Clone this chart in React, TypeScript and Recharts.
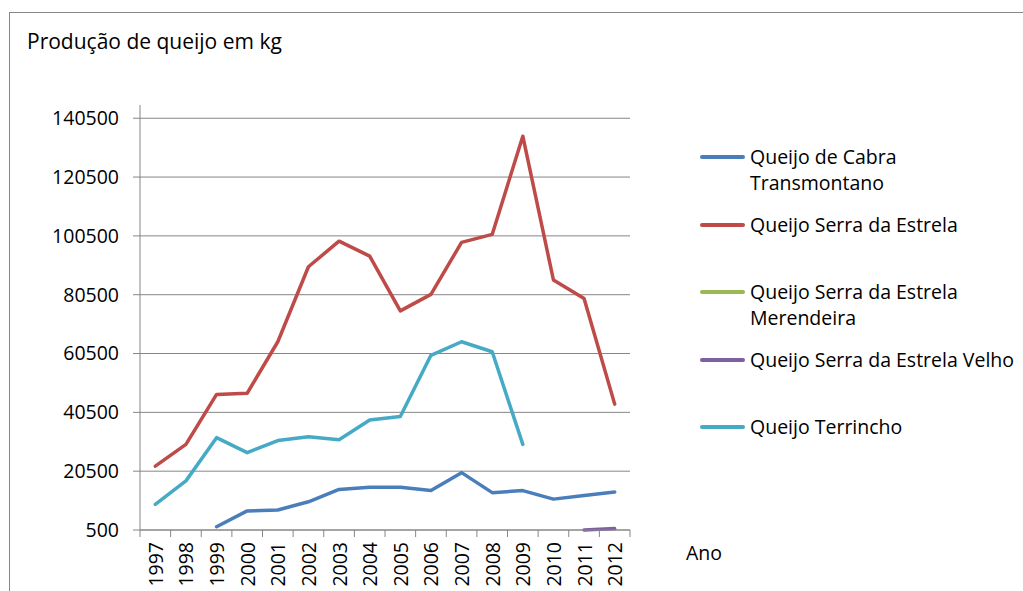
import React from 'react';
import { LineChart, Line, XAxis, YAxis, ReferenceLine, Legend } from 'recharts';

const years = [1997, 1998, 1999, 2000, 2001, 2002, 2003, 2004, 2005, 2006, 2007, 2008, 2009, 2010, 2011, 2012];
const cabraTransmontano = [null, null, 1600, 7000, 7300, 10100, 14300, 15000, 15000, 13900, 20000, 13200, 13900, 11000, 12200, 13400];
const serraDaEstrela = [22200, 29600, 46600, 47000, 64500, 90000, 98700, 93600, 75000, 80600, 98300, 101000, 134400, 85500, 79200, 43300];
const serraMerendeira = [null, null, null, null, null, null, null, null, null, null, null, null, null, null, null, null];
const serraVelho = [null, null, null, null, null, null, null, null, null, null, null, null, null, null, 500, 1000];
const terrincho = [9200, 17200, 31900, 26800, 30900, 32200, 31200, 37900, 39100, 59900, 64500, 61100, 29600, null, null, null];
const yTicks = [500, 20500, 40500, 60500, 80500, 100500, 120500, 140500];

const seriesKeys = ['cabra', 'serra', 'merendeira', 'velho', 'terrincho'];
const seriesNames = [
  'Queijo de Cabra Transmontano',
  'Queijo Serra da Estrela',
  'Queijo Serra da Estrela Merendeira',
  'Queijo Serra da Estrela Velho',
  'Queijo Terrincho',
];
const legendLines = [
  ['Queijo de Cabra', 'Transmontano'],
  ['Queijo Serra da Estrela'],
  ['Queijo Serra da Estrela', 'Merendeira'],
  ['Queijo Serra da Estrela Velho'],
  ['Queijo Terrincho'],
];
const seriesColors = ['#4A7EBB', '#BE4B48', '#98B954', '#7D60A0', '#46AAC5'];

const data = years.map((year, i) => ({
  year,
  cabra: cabraTransmontano[i],
  serra: serraDaEstrela[i],
  merendeira: serraMerendeira[i],
  velho: serraVelho[i],
  terrincho: terrincho[i],
}));

const W = 1023;
const H = 591;
const MARGIN = { top: 105, right: 393, bottom: 0, left: 0 };
const Y_AXIS_W = 140;
const X_AXIS_H = 61;
const PLOT_LEFT = MARGIN.left + Y_AXIS_W;
const PLOT_RIGHT = W - MARGIN.right;
const PLOT_BOTTOM = H - MARGIN.bottom - X_AXIS_H;
const HALF_STEP = (PLOT_RIGHT - PLOT_LEFT) / years.length / 2;
const AXIS_COLOR = '#868686';
const FONT = '"Open Sans", sans-serif';

function YearTick(props: any) {
  const { x, payload } = props;
  const isLast = payload.value === years[years.length - 1];
  const tx = x + 7.5;
  const ty = PLOT_BOTTOM + 12;
  return (
    <g>
      <line x1={x - HALF_STEP} y1={PLOT_BOTTOM} x2={x - HALF_STEP} y2={PLOT_BOTTOM + 7} stroke={AXIS_COLOR} />
      {isLast && (
        <line x1={x + HALF_STEP} y1={PLOT_BOTTOM} x2={x + HALF_STEP} y2={PLOT_BOTTOM + 7} stroke={AXIS_COLOR} />
      )}
      <text
        x={tx}
        y={ty}
        transform={`rotate(-90, ${tx}, ${ty})`}
        textAnchor="end"
        fontSize={19.5}
        fontFamily={FONT}
        fill="#000"
      >
        {payload.value}
      </text>
    </g>
  );
}

function renderLegend() {
  return (
    <div style={{ fontFamily: FONT, fontSize: 19.5, color: '#000', textAlign: 'left' }}>
      {seriesKeys.map((k, i) => (
        <div key={k} style={{ position: 'relative', height: 67.5 }}>
          <div
            style={{
              position: 'absolute',
              left: 0,
              top: 11,
              width: 45,
              height: 4,
              borderRadius: 2,
              background: seriesColors[i],
            }}
          />
          <div style={{ position: 'absolute', left: 50, top: 0, lineHeight: '26px', whiteSpace: 'nowrap' }}>
            {legendLines[i].map((l, j) => (
              <div key={j}>{l}</div>
            ))}
          </div>
        </div>
      ))}
    </div>
  );
}

export default function App() {
  return (
    <div style={{ position: 'absolute', left: 0, top: 0, width: W, height: H, overflow: 'hidden', background: '#fff' }}>
      <div
        style={{
          position: 'absolute',
          left: 9,
          top: 12,
          width: 1200,
          height: 800,
          border: `1.5px solid ${AXIS_COLOR}`,
          boxSizing: 'border-box',
        }}
      />
      <div
        style={{
          position: 'absolute',
          left: 27,
          top: 31,
          fontFamily: FONT,
          fontSize: 21,
          lineHeight: '21px',
          color: '#000',
          whiteSpace: 'nowrap',
        }}
      >
        Produção de queijo em kg
      </div>
      <div style={{ position: 'absolute', left: 0, top: 0 }}>
        <LineChart width={W} height={H} data={data} margin={MARGIN}>
          {yTicks.map((v) => (
            <ReferenceLine key={v} y={v} stroke={AXIS_COLOR} strokeWidth={1} ifOverflow="visible" />
          ))}
          <XAxis
            dataKey="year"
            type="number"
            domain={[years[0] - 0.5, years[years.length - 1] + 0.5]}
            ticks={years}
            interval={0}
            height={X_AXIS_H}
            tickLine={false}
            axisLine={{ stroke: AXIS_COLOR }}
            tick={<YearTick />}
            label={{
              value: 'Ano',
              position: 'right',
              offset: 56,
              dy: -7,
              fontSize: 19.5,
              fontFamily: FONT,
              fill: '#000',
            }}
          />
          <YAxis
            type="number"
            domain={[500, 145000]}
            ticks={yTicks}
            interval={0}
            width={Y_AXIS_W}
            tickSize={7}
            tickMargin={14}
            axisLine={{ stroke: AXIS_COLOR }}
            tickLine={{ stroke: AXIS_COLOR }}
            tick={{ fontSize: 19.5, fontFamily: FONT, fill: '#000' }}
          />
          <Legend
            layout="horizontal"
            verticalAlign="middle"
            align="center"
            content={renderLegend}
            wrapperStyle={{ position: 'absolute', left: 700, top: 144, width: 323 }}
          />
          {seriesKeys.map((k, i) => (
            <Line
              key={k}
              type="linear"
              dataKey={k}
              name={seriesNames[i]}
              stroke={seriesColors[i]}
              strokeWidth={3.5}
              strokeLinejoin="round"
              strokeLinecap="round"
              dot={false}
              activeDot={false}
              isAnimationActive={false}
            />
          ))}
        </LineChart>
      </div>
    </div>
  );
}
